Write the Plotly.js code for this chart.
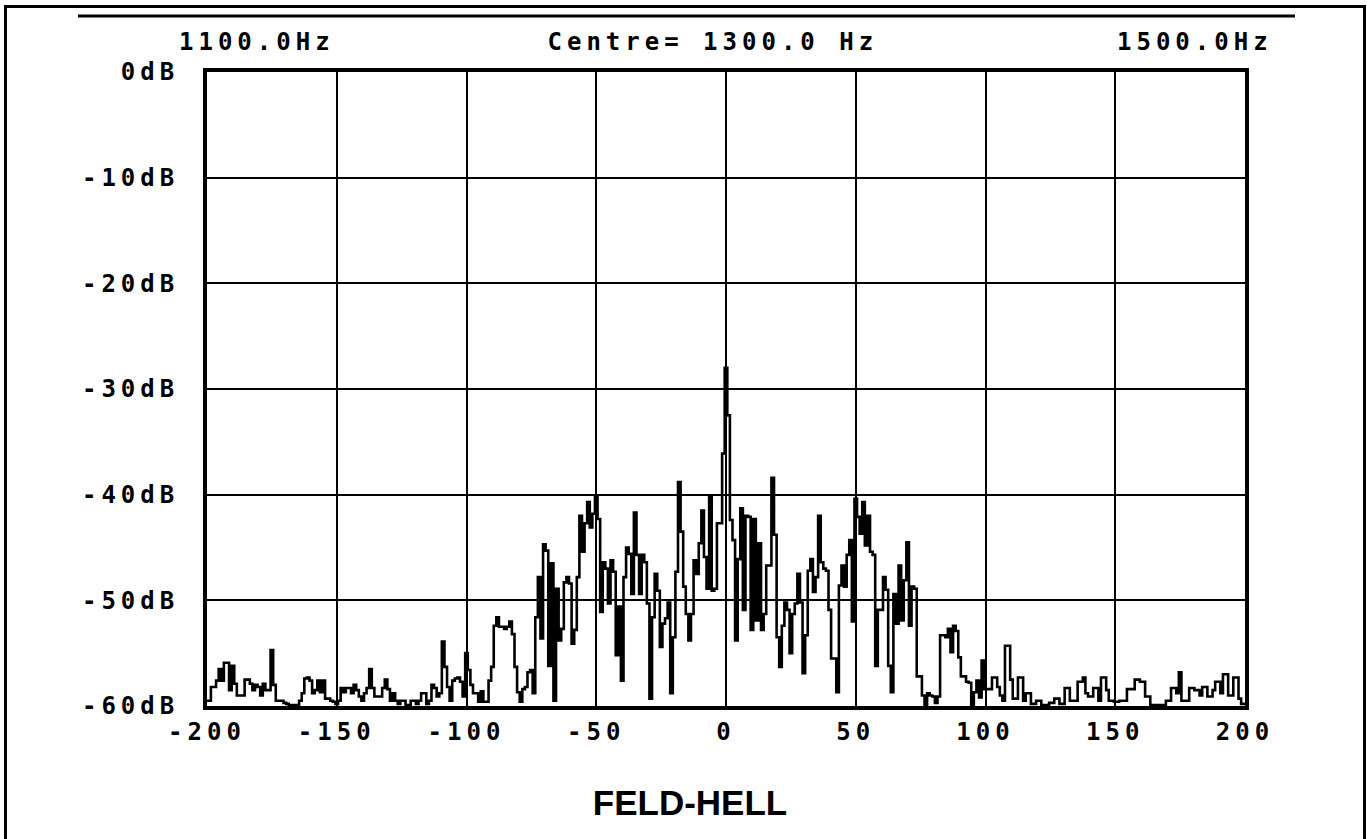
<!DOCTYPE html>
<html>
<head>
<meta charset="utf-8">
<script src="https://cdn.plot.ly/plotly-3.0.1.min.js"></script>
<style>
  html, body { margin: 0; padding: 0; background: #fff; }
  #chart { width: 1367px; height: 839px; }
  .main-svg text { letter-spacing: 5px; }
  .main-svg text.gtitle { letter-spacing: 0px; }
</style>
</head>
<body>
<div id="chart"></div>
<script>
// Spectrum (dB) at 1 Hz steps, offset from centre 1300 Hz
const startHz = -200;
const levelsA = [ // -200 .. -101 Hz
  -59.5,-59.5,-58.2,-58.2,-57.6,-56.5,-57.6,-55.9,-55.9,-58.5,
  -56.2,-57.9,-59.0,-59.0,-59.0,-57.5,-57.5,-57.9,-58.5,-58.0,
  -58.2,-59.0,-57.9,-58.5,-58.5,-54.7,-58.0,-59.5,-59.5,-59.5,
  -59.7,-59.8,-59.9,-59.9,-59.9,-59.9,-59.5,-58.8,-57.4,-57.3,
  -57.6,-58.8,-58.5,-57.6,-58.7,-57.6,-59.3,-59.3,-59.5,-59.6,
  -59.8,-59.5,-58.3,-58.7,-58.3,-58.3,-58.8,-58.0,-58.5,-59.1,
  -59.5,-58.8,-58.3,-56.5,-58.3,-59.1,-59.1,-59.1,-58.3,-57.5,
  -58.4,-59.5,-58.8,-59.5,-59.8,-59.5,-59.5,-59.9,-59.9,-59.5,
  -59.5,-59.8,-59.5,-58.8,-58.8,-59.8,-59.5,-58.0,-58.3,-59.1,
  -58.8,-53.9,-56.3,-58.2,-59.5,-57.6,-57.4,-57.3,-57.7,-59.1
];
const levelsB = [ // -100 .. -1 Hz
  -55.0,-56.6,-58.0,-58.8,-58.8,-59.6,-58.6,-59.6,-59.6,-57.6,
  -56.3,-52.4,-51.6,-52.5,-52.5,-52.7,-52.5,-52.0,-53.2,-56.3,
  -58.7,-59.6,-58.4,-58.2,-56.8,-56.6,-58.8,-51.6,-47.8,-53.6,
  -44.7,-45.3,-56.2,-46.5,-59.5,-48.9,-53.8,-52.7,-48.3,-47.8,
  -48.4,-54.1,-52.8,-47.8,-42.0,-45.4,-42.7,-40.7,-43.1,-41.8,
  -40.1,-42.3,-51.1,-46.4,-47.0,-50.3,-46.2,-47.3,-55.2,-50.6,
  -57.6,-47.8,-45.0,-45.6,-49.4,-41.7,-45.7,-49.4,-45.7,-46.4,
  -50.3,-59.3,-51.6,-47.5,-49.1,-54.4,-52.2,-51.7,-50.2,-58.8,
  -53.5,-47.3,-38.8,-43.5,-48.7,-51.3,-53.8,-51.3,-46.2,-47.5,
  -44.6,-41.5,-45.9,-48.9,-40.1,-49.1,-48.9,-42.7,-42.7,-36.1
];
const levelsC = [ // 0 .. 99 Hz
  -28.0,-32.5,-42.4,-44.3,-53.8,-46.1,-41.3,-50.9,-42.0,-42.1,
  -52.8,-42.3,-51.9,-44.6,-52.8,-51.3,-46.7,-46.7,-38.4,-43.8,
  -53.5,-56.3,-52.4,-50.2,-50.9,-55.0,-51.3,-50.3,-47.5,-50.2,
  -56.9,-53.3,-47.2,-46.1,-49.2,-47.8,-42.0,-46.4,-47.0,-47.2,
  -50.9,-55.5,-55.5,-58.7,-48.6,-46.7,-48.7,-45.7,-44.3,-52.0,
  -40.4,-42.1,-43.7,-40.7,-44.8,-42.0,-45.4,-45.7,-56.2,-50.9,
  -50.9,-47.8,-49.0,-56.2,-58.7,-49.4,-52.2,-46.7,-51.9,-48.1,
  -44.5,-52.4,-48.7,-48.9,-57.2,-57.2,-59.0,-59.9,-58.8,-59.0,
  -59.1,-59.7,-59.1,-53.3,-53.3,-53.5,-52.7,-54.9,-52.4,-52.9,
  -55.4,-57.2,-57.2,-57.7,-57.8,-59.9,-58.7,-57.6,-59.2,-55.7
];
const levelsD = [ // 100 .. 200 Hz
  -58.4,-58.4,-58.4,-57.3,-57.3,-58.2,-59.0,-59.5,-54.3,-54.3,
  -57.5,-59.3,-59.3,-57.3,-57.3,-59.5,-58.8,-58.8,-59.8,-59.8,
  -59.5,-59.5,-59.9,-59.9,-59.9,-59.7,-59.7,-59.3,-59.3,-59.8,
  -59.8,-58.3,-58.3,-59.5,-59.5,-59.5,-57.7,-57.7,-57.3,-58.8,
  -59.1,-59.1,-58.3,-58.3,-59.5,-57.3,-57.3,-58.5,-59.5,-59.5,
  -59.6,-59.6,-59.5,-59.5,-59.5,-58.4,-58.4,-58.4,-57.5,-57.5,
  -57.7,-57.7,-59.1,-59.1,-59.9,-59.9,-59.9,-59.9,-59.9,-59.9,
  -59.5,-59.5,-58.3,-58.3,-58.8,-56.8,-59.5,-59.5,-59.5,-58.3,
  -58.3,-58.5,-58.5,-59.0,-58.2,-58.2,-59.1,-59.1,-58.5,-57.7,
  -57.7,-58.8,-57.0,-57.0,-59.0,-59.0,-57.3,-57.3,-59.3,-59.8,
  -59.8
];
const xTickVals = [-200,-150,-100,-50,0,50,100,150,200];
const xTickText = ["-200","-150","-100","-50","0","50","100","150","200"];
const yTickVals = [0,-10,-20,-30,-40,-50,-60];
const yTickText = ["0dB","-10dB","-20dB","-30dB","-40dB","-50dB","-60dB"];
const lowLabel = "1100.0Hz";
const centreLabel = "Centre= 1300.0 Hz";
const highLabel = "1500.0Hz";
const chartTitle = "FELD-HELL";

const levels = levelsA.concat(levelsB, levelsC, levelsD);
const freqs = levels.map((_, i) => startHz + i);

// pixel -> paper helpers (plot area 207..1245 x 72..706)
const L = 207, R = 1245, T = 72, B = 706;
const px = x => (x - L) / (R - L);
const py = y => (B - y) / (B - T);

const tickFont = {family: "DejaVu Sans Mono", size: 24, color: "#000", weight: "bold"};

const trace = {
  x: freqs, y: levels, type: "scatter", mode: "lines",
  line: {color: "#000", width: 2.6, shape: "hvh"},
  hoverinfo: "skip"
};

const layout = {
  width: 1367, height: 839,
  margin: {l: L, r: 1367 - R, t: T, b: 839 - B},
  paper_bgcolor: "#fff", plot_bgcolor: "#fff",
  showlegend: false,
  title: {text: chartTitle, x: 690 / 1367, xanchor: "center", xref: "container",
          y: 1 - 803 / 839, yanchor: "middle", yref: "container",
          font: {family: "Liberation Sans", size: 35, color: "#000", weight: "bold"}},
  xaxis: {
    range: [-200, 200], tickvals: xTickVals, ticktext: xTickText,
    showgrid: true, gridcolor: "#000", gridwidth: 2,
    showline: true, linecolor: "#000", linewidth: 4, mirror: true,
    zeroline: false, ticks: "", tickfont: tickFont, ticklabelstandoff: 1,
    fixedrange: true
  },
  yaxis: {
    range: [-60, 0], tickvals: yTickVals, ticktext: yTickText,
    showgrid: true, gridcolor: "#000", gridwidth: 2,
    showline: true, linecolor: "#000", linewidth: 4, mirror: true,
    zeroline: false, ticks: "", tickfont: tickFont, ticklabelstandoff: 19,
    fixedrange: true
  },
  annotations: [
    {text: lowLabel, xref: "paper", yref: "paper", x: px(257), y: py(42), xanchor: "center", yanchor: "middle", showarrow: false, font: tickFont},
    {text: centreLabel, xref: "paper", yref: "paper", x: px(713), y: py(42), xanchor: "center", yanchor: "middle", showarrow: false, font: tickFont},
    {text: highLabel, xref: "paper", yref: "paper", x: px(1195), y: py(42), xanchor: "center", yanchor: "middle", showarrow: false, font: tickFont}
  ],
  shapes: [
    {type: "line", xref: "paper", yref: "paper", x0: px(78), x1: px(1295), y0: py(16), y1: py(16), line: {color: "#000", width: 3}},
    {type: "rect", xref: "paper", yref: "paper", x0: px(5.5), x1: px(1364.5), y0: py(6.5), y1: py(860), line: {color: "#000", width: 3}}
  ]
};

Plotly.newPlot("chart", [trace], layout, {displayModeBar: false, staticPlot: true});
</script>
</body>
</html>
